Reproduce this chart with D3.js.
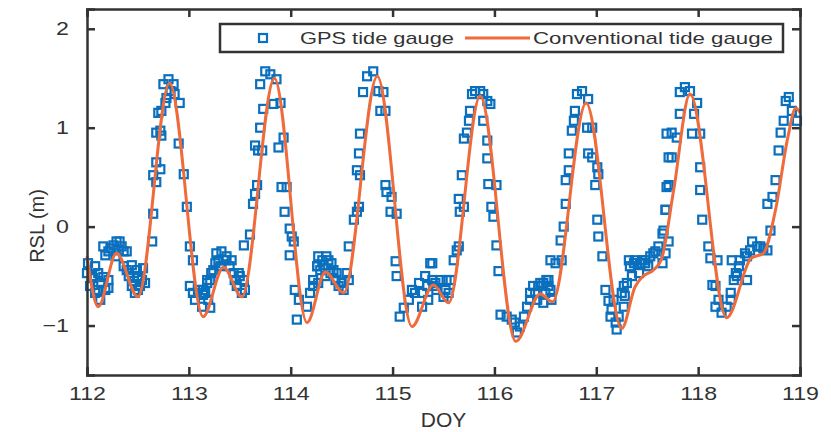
<!DOCTYPE html>
<html>
<head>
<meta charset="utf-8">
<script src="https://cdn.jsdelivr.net/npm/d3@7"></script>
<style>
  body { margin: 0; background: #fff; }
  text { font-family: "Liberation Sans", Arial, Helvetica, sans-serif; fill: #333; }
</style>
</head>
<body>
<svg id="chart" width="831" height="432"></svg>
<script>
// Axis ticks
const xTicks = [112, 113, 114, 115, 116, 117, 118, 119];
const yTicks = [-1, 0, 1, 2];
const seriesNames = ["GPS tide gauge", "Conventional tide gauge"];

// Conventional tide gauge: turning points and slope points (DOY, RSL in m)
const tideDoy = [112.00, 112.11, 112.29, 112.50, 112.81, 113.14, 113.34, 113.52, 113.84, 114.16,
  114.34, 114.52, 114.85, 115.19, 115.40, 115.55, 115.86, 116.21, 116.45, 116.57, 116.90,
  117.25, 117.38, 117.45, 117.57, 117.64, 117.76, 117.92, 118.28, 118.52, 118.64, 118.76,
  118.88, 118.96, 119.00];
const tideRsl = [-0.30, -0.81, -0.27, -0.71, 1.45, -0.91, -0.41, -0.71, 1.50, -0.97,
  -0.46, -0.67, 1.52, -1.01, -0.59, -0.77, 1.32, -1.16, -0.68, -0.76, 1.25,
  -1.03, -0.61, -0.51, -0.43, -0.33, 0.37, 1.34, -0.92, -0.32, -0.27, 0.17,
  0.90, 1.20, 1.15];

// GPS tide gauge samples (DOY, RSL in m)
const gpsDoy = [
  112.01, 112.08, 112.05, 112.11, 112.03, 112.14, 112.21, 112.08, 112.13, 112.18,
  112.16, 112.23, 112.29, 112.32, 112.34, 112.39, 112.28, 112.18,
  112.36, 112.44, 112.49, 112.55, 112.41, 112.46, 112.52, 112.57, 112.47, 112.50,
  112.64, 112.65, 112.68, 112.65, 112.72, 112.68, 112.73, 112.68, 112.72, 112.70, 112.73,
  112.77, 112.75, 112.78, 112.80, 112.82, 112.85, 112.86, 112.91, 112.90, 112.95, 112.98,
  113.01, 113.04, 113.01, 113.04, 113.09, 113.06, 113.14, 113.13, 113.18,
  113.14, 113.19, 113.21, 113.18, 113.22, 113.21,
  113.27, 113.32, 113.37, 113.42, 113.26, 113.31, 113.44, 113.50, 113.54, 113.47, 113.55, 113.52,
  113.54, 113.60, 113.63, 113.65, 113.67, 113.68, 113.65, 113.72, 113.70, 113.73, 113.70,
  113.75, 113.80, 113.86, 113.83, 113.90, 113.93, 113.88, 113.91, 113.96, 113.94, 113.99,
  114.01, 114.03, 113.99,
  114.04, 114.08, 114.06, 114.16, 114.19, 114.22, 114.26, 114.27, 114.22,
  114.26, 114.31, 114.35, 114.40, 114.39, 114.44, 114.47, 114.52, 114.55, 114.57, 114.27, 114.34,
  114.57, 114.62, 114.65, 114.67, 114.68, 114.65, 114.67, 114.68, 114.71, 114.75, 114.81,
  114.86, 114.91, 114.88, 114.93, 114.93, 114.94, 114.99, 114.98, 115.04, 115.03, 115.04,
  115.07, 115.11, 115.16,
  115.22, 115.19, 115.26, 115.32, 115.37, 115.40, 115.35, 115.29,
  115.39, 115.43, 115.50, 115.55, 115.57, 115.47,
  115.60, 115.63, 115.65, 115.66, 115.65, 115.70, 115.68, 115.70, 115.73, 115.75, 115.76,
  115.78, 115.81, 115.86, 115.89, 115.93, 115.96, 115.89, 115.93, 115.93, 115.94, 116.02,
  115.97, 115.99, 116.02, 116.04, 116.06, 116.12, 116.17, 116.22, 116.25,
  116.32, 116.35, 116.38, 116.45, 116.51, 116.55, 116.48, 116.42,
  116.53, 116.55, 116.56, 116.60, 116.66, 116.65, 116.68, 116.70, 116.70, 116.73, 116.73,
  116.76, 116.78, 116.79, 116.81, 116.86, 116.92, 116.96, 116.91, 116.92, 116.96, 117.01,
  117.02, 116.99, 117.01, 117.02, 117.06, 117.09, 117.12, 117.14, 117.19, 117.20, 117.22,
  117.27, 117.28, 117.30, 117.35, 117.32, 117.38, 117.45, 117.48, 117.51, 117.42, 117.56,
  117.61, 117.65, 117.68, 117.69, 117.71, 117.69,
  117.65, 117.68, 117.71, 117.66, 117.68, 117.71, 117.74, 117.74, 117.79, 117.82, 117.82,
  117.87, 117.92, 117.99, 117.96, 117.94, 118.02, 118.02, 118.02, 118.04, 118.10, 118.12,
  118.19, 118.14, 118.17, 118.23, 118.28, 118.32, 118.37, 118.33, 118.41, 118.46, 118.48,
  118.53, 118.61, 118.68, 118.71, 118.68, 118.73, 118.76, 118.79, 118.81, 118.84, 118.86,
  118.89, 118.92, 118.97,
  // denser low-water clusters
  112.00, 112.11, 112.06, 112.16, 112.21, 112.21, 112.26, 112.36, 112.31,
  112.39, 112.50, 112.54, 112.44,
  113.16, 113.24, 113.29, 113.36, 113.40, 113.45, 113.49,
  114.29, 114.32, 114.37, 114.42, 114.45, 114.50,
  115.29, 115.34, 115.39, 115.42, 115.52, 115.53,
  116.35, 116.40, 116.43, 116.48, 116.53, 116.50, 116.29, 116.20,
  117.33, 117.37, 117.43, 117.48, 117.53, 117.58, 117.25, 117.15, 117.17, 117.27,
  118.17, 118.20, 118.32, 118.35, 118.40, 118.48, 118.51, 118.58, 118.64, 118.38
];
const gpsRsl = [
  -0.37, -0.40, -0.50, -0.47, -0.60, -0.57, -0.54, -0.67, -0.74, -0.64,
  -0.20, -0.22, -0.15, -0.15, -0.20, -0.25, -0.30, -0.29,
  -0.40, -0.39, -0.44, -0.42, -0.50, -0.55, -0.60, -0.57, -0.67, -0.64,
  -0.15, 0.13, 0.45, 0.52, 0.58, 0.65, 0.92, 0.95, 0.97, 1.15, 1.17,
  1.25, 1.44, 1.30, 1.49, 1.37, 1.44, 1.34, 1.25, 0.84, 0.53, 0.20,
  -0.20, -0.34, -0.60, -0.67, -0.64, -0.74, -0.69, -0.81, -0.54,
  -0.64, -0.74, -0.82, -0.57, -0.47, -0.54,
  -0.27, -0.25, -0.30, -0.34, -0.37, -0.40, -0.47, -0.50, -0.54, -0.60, -0.64, -0.67,
  -0.19, -0.08, 0.23, 0.33, 0.42, 0.77, 0.82, 0.77, 1.00, 1.19, 1.44,
  1.57, 1.54, 1.49, 1.24, 1.25, 0.90, 0.80, 0.40, 0.40, 0.15, -0.02,
  -0.10, -0.15, -0.29,
  -0.64, -0.74, -0.94, -0.81, -0.67, -0.54, -0.40, -0.30, -0.60,
  -0.40, -0.34, -0.30, -0.37, -0.47, -0.54, -0.60, -0.64, -0.47, -0.54, -0.57, -0.50,
  -0.20, 0.07, 0.15, 0.20, 0.52, 0.57, 0.74, 0.94, 1.36, 1.52, 1.57,
  1.37, 1.36, 1.17, 1.17, 0.42, 0.35, 0.30, 0.15, 0.13, -0.35, -0.50,
  -0.91, -0.82, -0.74,
  -0.67, -0.64, -0.57, -0.50, -0.37, -0.60, -0.74, -0.81,
  -0.37, -0.64, -0.71, -0.67, -0.54, -0.54,
  -0.34, -0.24, -0.20, 0.15, 0.28, 0.20, 0.52, 0.89, 0.95, 1.07, 1.17,
  1.34, 1.37, 1.37, 1.34, 1.27, 1.24, 1.07, 0.87, 0.69, 0.43, 0.42,
  0.20, 0.10, -0.19, -0.45, -0.89, -0.91, -0.94, -1.07, -1.01,
  -0.81, -0.67, -0.60, -0.57, -0.54, -0.34, -0.77, -0.74,
  -0.54, -0.64, -0.74, -0.37, -0.34, -0.14, 0.00, 0.23, 0.47, 0.57, 0.74,
  0.97, 1.07, 1.17, 1.34, 1.37, 1.29, 1.00, 1.00, 0.74, 0.70, 0.60,
  0.53, 0.42, 0.07, -0.10, -0.30, -0.64, -0.75, -0.91, -0.97, -1.04, -0.91,
  -0.81, -0.70, -0.57, -0.50, -0.34, -0.34, -0.34, -0.37, -0.40, -0.47, -0.27,
  -0.20, -0.07, 0.17, 0.40, 0.70, 0.94,
  -0.37, -0.27, -0.15, -0.04, 0.17, 0.42, 0.70, 0.95, 0.90, 1.14, 1.36,
  1.41, 1.37, 1.25, 1.14, 0.94, 0.94, 0.60, 0.37, 0.07, -0.20, -0.32,
  -0.34, -0.59, -0.81, -0.87, -0.81, -0.67, -0.47, -0.34, -0.34, -0.27, -0.54,
  -0.15, -0.20, -0.24, -0.04, 0.23, 0.30, 0.47, 0.77, 0.95, 1.07, 1.27,
  1.31, 1.17, 1.07,
  -0.47, -0.64, -0.52, -0.51, -0.62, -0.25, -0.19, -0.25, -0.24,
  -0.44, -0.50, -0.54, -0.60,
  -0.67, -0.44, -0.34, -0.34, -0.40, -0.54, -0.47,
  -0.44, -0.39, -0.34, -0.44, -0.47, -0.57,
  -0.67, -0.60, -0.54, -0.57, -0.64, -0.54,
  -0.74, -0.67, -0.60, -0.57, -0.60, -0.67, -0.91, -0.97,
  -0.40, -0.37, -0.37, -0.34, -0.30, -0.25, -0.67, -0.84, -0.74, -0.60,
  -0.60, -0.74, -0.74, -0.54, -0.40, -0.30, -0.24, -0.20, -0.22, -0.50
];

const gps = gpsDoy.map((d, i) => ({ doy: d, rsl: gpsRsl[i] }));
const tide = tideDoy.map((d, i) => ({ doy: d, rsl: tideRsl[i] }));

const W = 831, H = 432;
const margin = { left: 87, right: 31, top: 9, bottom: 57 };
const blue = "#0a6fbd", orange = "#ef6b3c", axisColor = "#333";
const mk = 8; // marker edge length

const svg = d3.select("#chart");
const x = d3.scaleLinear().domain([112, 119]).range([margin.left, W - margin.right]);
const y = d3.scaleLinear().domain([-1.5, 2.2]).range([H - margin.bottom, margin.top]);

// GPS markers
svg.append("g").selectAll("rect").data(gps).join("rect")
  .attr("x", d => x(d.doy) - mk / 2)
  .attr("y", d => y(d.rsl) - mk / 2)
  .attr("width", mk).attr("height", mk)
  .attr("fill", "none").attr("stroke", blue).attr("stroke-width", 2.2);

// Conventional gauge curve
const line = d3.line().x(d => x(d.doy)).y(d => y(d.rsl)).curve(d3.curveMonotoneX);
svg.append("path").datum(tide)
  .attr("d", line)
  .attr("fill", "none").attr("stroke", orange).attr("stroke-width", 3)
  .attr("stroke-linejoin", "round");

// Axes with inward ticks on all four sides
const tickLen = 8;
const axisB = svg.append("g").attr("transform", `translate(0,${H - margin.bottom})`)
  .call(d3.axisBottom(x).tickValues(xTicks).tickSize(-tickLen).tickPadding(4 + tickLen).tickFormat(d3.format("d")));
const axisT = svg.append("g").attr("transform", `translate(0,${margin.top})`)
  .call(d3.axisTop(x).tickValues(xTicks).tickSize(-tickLen).tickFormat(""));
const axisL = svg.append("g").attr("transform", `translate(${margin.left},0)`)
  .call(d3.axisLeft(y).tickValues(yTicks).tickSize(-tickLen).tickPadding(10 + tickLen).tickFormat(d3.format("d")));
const axisR = svg.append("g").attr("transform", `translate(${W - margin.right},0)`)
  .call(d3.axisRight(y).tickValues(yTicks).tickSize(-tickLen).tickFormat(""));

[axisB, axisT, axisL, axisR].forEach(g => {
  g.select(".domain").attr("stroke", axisColor).attr("stroke-width", 2.5);
  g.selectAll(".tick line").attr("stroke", axisColor).attr("stroke-width", 2.5);
  g.selectAll(".tick text").attr("fill", axisColor).attr("font-size", 19)
    .attr("font-family", "Liberation Sans, Arial, sans-serif")
    .each(function () {
      // slightly wide tick numerals
      const w = this.getComputedTextLength();
      if (w > 0) d3.select(this).attr("textLength", w * 1.22).attr("lengthAdjust", "spacingAndGlyphs");
    });
});

// Axis titles
svg.append("text").attr("x", (margin.left + W - margin.right) / 2).attr("y", 427)
  .attr("text-anchor", "middle").attr("font-size", 21).text("DOY");
svg.append("text").attr("transform", `translate(44,${(margin.top + H - margin.bottom) / 2 + 34}) rotate(-90)`)
  .attr("text-anchor", "middle").attr("font-size", 20).text("RSL (m)");

// Legend
const lg = svg.append("g");
lg.append("rect").attr("x", 220).attr("y", 24).attr("width", 563).attr("height", 28)
  .attr("fill", "#fff").attr("stroke", axisColor).attr("stroke-width", 2.5);
lg.append("rect").attr("x", 263 - mk / 2).attr("y", 38 - mk / 2).attr("width", mk).attr("height", mk)
  .attr("fill", "none").attr("stroke", blue).attr("stroke-width", 2.2);
lg.append("text").attr("x", 300).attr("y", 44).attr("font-size", 17)
  .attr("textLength", 154).attr("lengthAdjust", "spacingAndGlyphs").text(seriesNames[0]);
lg.append("line").attr("x1", 465).attr("x2", 530).attr("y1", 38).attr("y2", 38)
  .attr("stroke", orange).attr("stroke-width", 3);
lg.append("text").attr("x", 533).attr("y", 44).attr("font-size", 17)
  .attr("textLength", 240).attr("lengthAdjust", "spacingAndGlyphs").text(seriesNames[1]);
</script>
</body>
</html>
